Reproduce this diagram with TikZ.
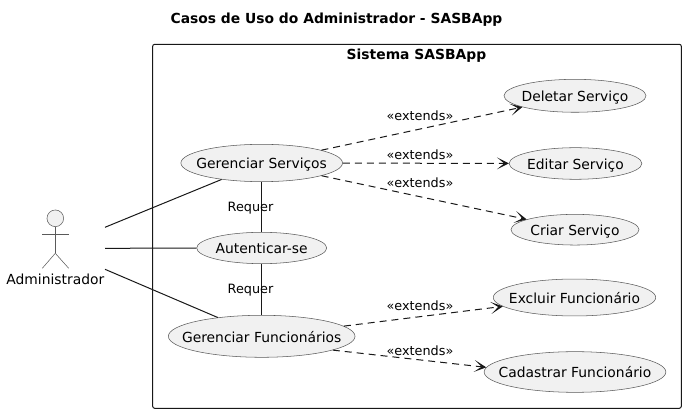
\documentclass[tikz,border=0pt]{standalone}
\usepackage{fontspec}
\setmainfont{DejaVu Sans}
\usetikzlibrary{arrows.meta,shapes.geometric}
\definecolor{ucfill}{HTML}{F1F1F1}
\definecolor{ucline}{HTML}{181818}
\definecolor{ucthin}{HTML}{5A5A5A}
\newcommand{\ucname}[1]{\makebox[0pt]{\raisebox{-0.42em}[0pt][0pt]{#1}}}
\tikzset{
    usecase/.style={draw=ucthin,fill=ucfill,ellipse,inner sep=0pt,line width=0.4pt},
    extline/.style={draw=ucline,dash pattern=on 5.25pt off 3.75pt,line width=0.75pt,-{Stealth[length=9pt,width=9pt,inset=5.5pt]}},
    assocline/.style={draw=ucline,line width=0.75pt},
    stick/.style={draw=ucthin,line width=0.4pt},
    lbl/.style={font=\fontsize{9.6}{12}\selectfont,text=black,inner sep=0pt},
    boldlbl/.style={font=\fontsize{10.4}{12}\selectfont\bfseries,text=black,inner sep=0pt}
}
\begin{document}
\begin{tikzpicture}[x=0.75pt,y=-0.75pt,every node/.style={font=\fontsize{10.4}{12}\selectfont,text=black}]
    \useasboundingbox (0,0) rectangle (686,413);
    \node[boldlbl] (title) at (336.5,19.5) {Casos de Uso do Administrador - SASBApp};
    \draw[ucline,line width=0.75pt,rounded corners=1.5pt] (152.7,44.3) rectangle (681.3,408.3);
    \node[boldlbl] (sistema) at (416.5,55.5) {Sistema SASBApp};
    % casos de uso
    \node[usecase,minimum width=121.2pt,minimum height=28pt] (servicos) at (261.7,163) {\ucname{Gerenciar Serviços}};
    \node[usecase,minimum width=97.5pt,minimum height=23.5pt] (auth) at (261.7,248) {\ucname{Autenticar-se}};
    \node[usecase,minimum width=140pt,minimum height=31.5pt] (funcs) at (261.7,336.3) {\ucname{Gerenciar Funcionários}};
    \node[usecase,minimum width=106.5pt,minimum height=24.7pt] (deletar) at (575,95.8) {\ucname{Deletar Serviço}};
    \node[usecase,minimum width=99.5pt,minimum height=23.7pt] (editar) at (575.5,163.5) {\ucname{Editar Serviço}};
    \node[usecase,minimum width=96pt,minimum height=23pt] (criar) at (575,229.7) {\ucname{Criar Serviço}};
    \node[usecase,minimum width=121.8pt,minimum height=27.7pt] (excluir) at (574.5,297.5) {\ucname{Excluir Funcionário}};
    \node[usecase,minimum width=136.3pt,minimum height=30.5pt] (cadastrar) at (575,372) {\ucname{Cadastrar Funcionário}};
    % ator
    \node[circle,draw=ucthin,fill=ucfill,line width=0.4pt,minimum size=12.5pt,inner sep=0pt] (cabeca) at (55.3,218.3) {};
    \coordinate (ombroE) at (42.3,234);
    \coordinate (ombroD) at (68.7,234);
    \coordinate (quadril) at (55.3,253.3);
    \coordinate (peE) at (42.3,268.3);
    \coordinate (peD) at (68.7,268.3);
    \draw[stick] (cabeca)--(quadril);
    \draw[stick] (ombroE)--(ombroD);
    \draw[stick] (quadril)--(peE);
    \draw[stick] (quadril)--(peD);
    \node[inner sep=0pt] (admin) at (55.3,279) {Administrador};
    \coordinate (fimA) at (105,227.3);
    \coordinate (fimB) at (105,248.3);
    \coordinate (fimC) at (105,269.3);
    \draw[assocline] (fimA)--(servicos);
    \draw[assocline] (fimB)--(auth);
    \draw[assocline] (fimC)--(funcs);
    \draw[assocline] (servicos)--(auth);
    \draw[assocline] (auth)--(funcs);
    \node[lbl] (req1) at (250.5,208) {Requer};
    \node[lbl] (req2) at (250.5,290) {Requer};
    \draw[extline] (servicos)--(deletar);
    \draw[extline] (servicos)--(editar);
    \draw[extline] (servicos)--(criar);
    \draw[extline] (funcs)--(excluir);
    \draw[extline] (funcs.-11)--(cadastrar.177.6);
    \node[lbl] (ext1) at (420,116) {«extends»};
    \node[lbl] (ext2) at (420,155) {«extends»};
    \node[lbl] (ext3) at (420,183) {«extends»};
    \node[lbl] (ext4) at (420,306) {«extends»};
    \node[lbl] (ext5) at (420,350.5) {«extends»};
\end{tikzpicture}
\end{document}
